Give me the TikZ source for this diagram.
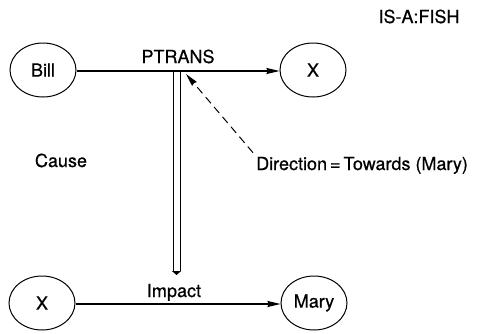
\documentclass[tikz,border=0pt]{standalone}
\usepackage{fontspec}
\setmainfont{TeX Gyre Heros}[FakeBold=0.6]
\usetikzlibrary{shapes.geometric,arrows.meta,positioning,calc}

\begin{document}
\begin{tikzpicture}[
  x=1pt, y=-1pt,
  concept/.style={draw, ellipse, line width=1pt, minimum width=66pt, minimum height=54pt,
    inner sep=0pt, font=\fontsize{18}{20}\selectfont},
  lbl/.style={font=\fontsize{18}{20}\selectfont, inner sep=0pt},
  arr/.style={-{Stealth[length=13pt,width=6pt,inset=1pt]}, line width=1.1pt},
  causal/.style={double, double distance=6pt, line width=1pt, -{Triangle[length=4pt,width=9pt]}},
  dir/.style={-{Stealth[length=13pt,width=6pt,inset=1pt]}, line width=1pt, dash pattern=on 8pt off 5pt}
]
  \useasboundingbox (0,0) rectangle (477,333);

  \node[concept] (bill) at (43,70) {Bill};
  \node[concept] (xtop) at (313,70) {X};
  \node[concept] (xbot) at (42,303) {X};
  \node[concept] (mary) at (314,303) {Mary};

  \draw[arr] (bill.east |- 0,71) -- (xtop.west |- 0,71);
  \draw[arr] (xbot.east |- 0,304) -- (mary.west |- 0,304);

  \node[lbl, anchor=base] (ptrans) at (178,63) {PTRANS};
  \node[lbl, anchor=base] (impact) at (174,297) {Impact};

  \coordinate (ptop) at (176.5,72);
  \coordinate (dtip) at (186,74);
  \draw[causal] (ptop) -- (176.5,275);

  \node[lbl, anchor=base] (cause) at (61,167) {Cause};
  \node[lbl, anchor=base west] (direction) at (256,170) {Direction\,=\,Towards (Mary)};
  \draw[dir] ($(direction.north west)+(-3,-4)$) -- (dtip);

  \node[lbl, anchor=base] (isa) at (419,23) {IS-A:FISH};
\end{tikzpicture}
\end{document}
